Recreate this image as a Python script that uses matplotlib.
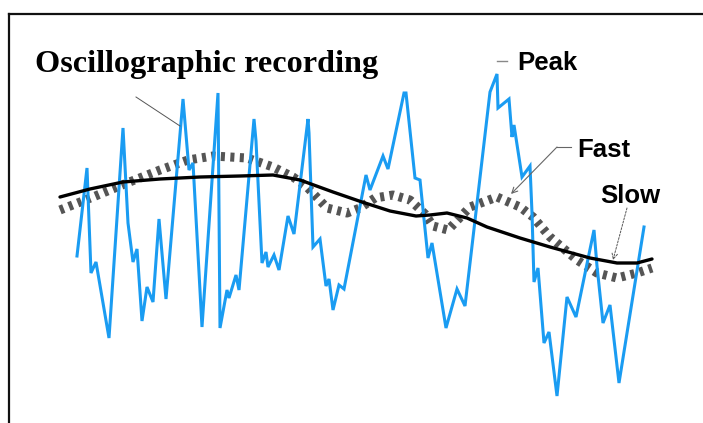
import matplotlib
matplotlib.use('Agg')
import matplotlib.pyplot as plt

# values (x = time position, y = signal level, screen units, down = larger)
rec_x = [77, 87, 91, 96, 109, 123, 128, 133, 137, 142, 147, 153, 159, 166,
         183, 189, 193, 202, 218, 220, 227, 229, 236, 239, 254, 256, 262, 266,
         268, 274, 279, 288, 294, 308, 309, 313, 320, 326, 329, 333, 339, 344,
         366, 370, 383, 388, 404, 406, 415, 420, 428, 432, 446, 457, 465, 490,
         497, 498, 509, 512, 514, 522, 530, 532, 534, 538, 544, 549, 557, 567,
         576, 594, 597, 603, 610, 619, 644]
rec_y = [256, 168, 273, 262, 338, 128, 223, 262, 249, 321, 287, 302, 219, 299,
         99, 170, 163, 327, 93, 328, 290, 298, 275, 290, 119, 141, 263, 252,
         267, 255, 270, 216, 234, 119, 133, 247, 239, 286, 279, 310, 285, 289,
         175, 190, 156, 169, 93, 93, 178, 180, 258, 243, 328, 289, 306, 92,
         74, 108, 99, 137, 125, 177, 166, 213, 282, 268, 343, 332, 396, 297,
         317, 230, 266, 323, 305, 383, 227]

fast_x = [60, 93, 127, 160, 188, 213, 247, 273, 293, 307, 327, 347, 360, 375,
          393, 410, 425, 433, 448, 470, 497, 520, 533, 550, 577, 597, 617, 637, 652]
fast_y = [210, 197, 183, 170, 160, 156, 158, 167, 177, 187, 208, 213, 208, 198,
          195, 200, 214, 226, 230, 207, 197, 207, 217, 237, 260, 273, 278, 273, 268]

slow_x = [60, 90, 123, 160, 200, 240, 273, 300, 333, 362, 390, 416, 430, 447,
          467, 487, 520, 550, 590, 617, 637, 652]
slow_y = [197, 189, 182, 179, 177, 176, 175, 180, 192, 202, 211, 216, 215, 213,
          218, 227, 238, 247, 258, 263, 263, 259]

fig = plt.figure(figsize=(7.03, 4.23), dpi=100)
fig.patch.set_facecolor('white')

# open frame: only top and left edges visible
frame = fig.add_axes([9 / 703, -0.01, 1.0, (423 - 14) / 423 + 0.01])
frame.set_xticks([])
frame.set_yticks([])
for side in ('right', 'bottom'):
    frame.spines[side].set_visible(False)
for side in ('top', 'left'):
    frame.spines[side].set_linewidth(1.6)
    frame.spines[side].set_color('#111111')
frame.patch.set_alpha(0)

ax = fig.add_axes([0, 0, 1, 1])
ax.set_xlim(0, 703)
ax.set_ylim(423, 0)
ax.axis('off')
ax.patch.set_alpha(0)

ax.plot(fast_x, fast_y, color='#555555', lw=6.5, ls=(0, (0.45, 0.6)),
        dash_capstyle='butt', solid_joinstyle='round', zorder=2)
ax.plot(rec_x, rec_y, color='#1a9cf2', lw=2.2, solid_joinstyle='miter', zorder=3)
ax.plot(slow_x, slow_y, color='black', lw=2.4, solid_joinstyle='round',
        solid_capstyle='round', zorder=4)

ax.text(35, 72, 'Oscillographic recording', family='Liberation Serif',
        fontweight='bold', fontsize=23.2, va='baseline', ha='left')
ax.plot([136, 180], [97, 126], color='#555555', lw=0.7, zorder=5)

ax.text(517, 70, 'Peak', family='Liberation Sans', fontweight='bold',
        fontsize=18.5, va='baseline', ha='left')
ax.plot([497, 507], [61, 61], color='#888888', lw=1.0)

ax.text(577, 157, 'Fast', family='Liberation Sans', fontweight='bold',
        fontsize=18.5, va='baseline', ha='left')
ax.annotate('', xy=(511, 194), xytext=(557, 147),
            arrowprops=dict(arrowstyle='->', color='#666666', lw=0.8,
                            shrinkA=0, shrinkB=0))
ax.plot([557, 571], [147, 147], color='#666666', lw=0.8)

ax.text(600, 203, 'Slow', family='Liberation Sans', fontweight='bold',
        fontsize=18.5, va='baseline', ha='left')
ax.annotate('', xy=(613, 260), xytext=(627, 208),
            arrowprops=dict(arrowstyle='->', color='#555555', lw=0.7,
                            ls=(0, (2, 1.5)), shrinkA=0, shrinkB=0))

fig.savefig('out.png', dpi=100, facecolor='white')
